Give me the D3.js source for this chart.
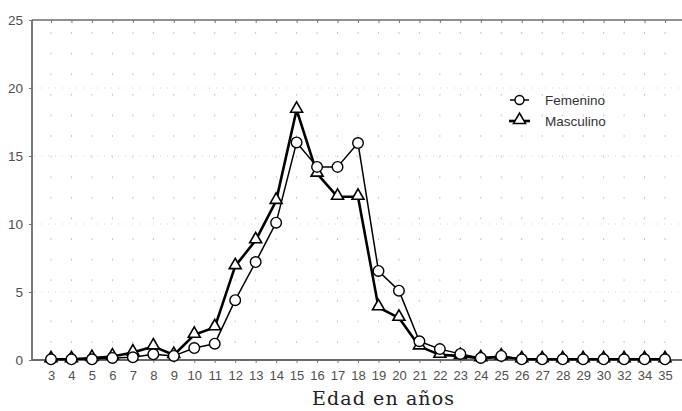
<!DOCTYPE html>
<html>
<head>
<meta charset="utf-8">
<script src="https://cdn.jsdelivr.net/npm/d3@7"></script>
<style>
  html, body { margin: 0; padding: 0; background: #fff; }
  svg { display: block; }
</style>
</head>
<body>
<svg id="chart" width="682" height="411"></svg>
<script>
// ---- data ----
const categories = ["3","4","5","6","7","8","9","10","11","12","13","14","15","16","17","18","19","20","21","22","23","24","25","26","27","28","29","30","32","34","35"];
const femenino  = [0.05,0.05,0.05,0.15,0.2,0.42,0.3,0.88,1.2,4.4,7.2,10.1,16.0,14.2,14.2,15.95,6.55,5.1,1.38,0.8,0.45,0.15,0.3,0.05,0.05,0.05,0.05,0.05,0.05,0.05,0.05];
const masculino = [0.05,0.05,0.15,0.25,0.55,1.0,0.37,1.85,2.4,6.9,8.8,11.7,18.4,13.7,12.0,12.0,3.87,3.1,1.0,0.38,0.3,0.12,0.25,0.05,0.05,0.05,0.05,0.05,0.05,0.05,0.05];
const yTicks = [0,5,10,15,20,25];
const seriesNames = ["Femenino","Masculino"];
const xTitle = "Edad en años";

// ---- layout ----
const svg = d3.select("#chart");
const pLeft = 32, pRight = 682, pTop = 20, pBottom = 360;

const x = d3.scalePoint().domain(categories).range([51, 665]);
const y = d3.scaleLinear().domain([0, 25]).range([pBottom, pTop]);

// dotted grid (dots at intersections)
const gridRows = d3.range(pBottom - 18, pTop, -20.6);
const gridG = svg.append("g").attr("fill", "#c8c8c8");
categories.forEach(c => {
  gridRows.forEach(r => {
    gridG.append("rect").attr("x", x(c) - 0.5).attr("y", r - 1).attr("width", 1).attr("height", 2);
  });
});
// major horizontal dotted rows
const majorG = svg.append("g");
yTicks.filter(t => t > 0 && t < 25).forEach(t => {
  majorG.append("line")
    .attr("x1", pLeft + 2).attr("x2", pRight)
    .attr("y1", y(t)).attr("y2", y(t))
    .attr("stroke", "#d4d4d4").attr("stroke-width", 1)
    .attr("stroke-dasharray", "1,6");
});

const tickFont = "'Liberation Sans', Arial, sans-serif";

// axes
const xAxis = d3.axisBottom(x).tickSize(3).tickPadding(8);
const gx = svg.append("g").attr("transform", `translate(0,${pBottom})`).call(xAxis);
gx.select(".domain").remove();
gx.selectAll(".tick line").attr("stroke", "#777");
gx.selectAll(".tick text").attr("fill", "#505050").style("font-family", tickFont).style("font-size", "13px");

const yAxis = d3.axisLeft(y).tickValues(yTicks).tickSize(3).tickPadding(6);
const gy = svg.append("g").attr("transform", `translate(${pLeft},0)`).call(yAxis);
gy.select(".domain").remove();
gy.selectAll(".tick line").attr("stroke", "#777");
gy.selectAll(".tick text").attr("fill", "#505050").style("font-family", tickFont).style("font-size", "13.5px");

// top ticks
const xTop = d3.axisTop(x).tickSize(-3).tickFormat("");
const gt = svg.append("g").attr("transform", `translate(0,${pTop})`).call(xTop);
gt.select(".domain").remove();
gt.selectAll(".tick line").attr("stroke", "#777");

// frame lines
svg.append("line").attr("x1", pLeft).attr("x2", pRight).attr("y1", pTop).attr("y2", pTop).attr("stroke", "#6a6a6a").attr("stroke-width", 1.6);
svg.append("line").attr("x1", pLeft).attr("x2", pRight).attr("y1", pBottom).attr("y2", pBottom).attr("stroke", "#6a6a6a").attr("stroke-width", 1.8);
svg.append("line").attr("x1", pLeft).attr("x2", pLeft).attr("y1", pTop).attr("y2", pBottom).attr("stroke", "#6a6a6a").attr("stroke-width", 1.8);

// series
const line = d3.line().x((d, i) => x(categories[i])).y(d => y(d));

svg.append("path").datum(masculino).attr("d", line)
  .attr("fill", "none").attr("stroke", "#000").attr("stroke-width", 2.6).attr("stroke-linejoin", "round");
svg.append("path").datum(femenino).attr("d", line)
  .attr("fill", "none").attr("stroke", "#000").attr("stroke-width", 1.5).attr("stroke-linejoin", "round");

const tri = d3.symbol().type(d3.symbolTriangle).size(62);

svg.append("g").selectAll("path").data(masculino).join("path")
  .attr("d", tri)
  .attr("transform", (d, i) => `translate(${x(categories[i])},${y(d) - 1})`)
  .attr("fill", "#fff").attr("stroke", "#000").attr("stroke-width", 1.6);

svg.append("g").selectAll("circle").data(femenino).join("circle")
  .attr("cx", (d, i) => x(categories[i])).attr("cy", d => y(d)).attr("r", 5.3)
  .attr("fill", "#fff").attr("stroke", "#000").attr("stroke-width", 1.4);

// legend
const lg = svg.append("g");
lg.append("line").attr("x1", 510).attr("x2", 529).attr("y1", 100).attr("y2", 100).attr("stroke", "#000").attr("stroke-width", 1.5);
lg.append("circle").attr("cx", 519.5).attr("cy", 100).attr("r", 4.5).attr("fill", "#fff").attr("stroke", "#000").attr("stroke-width", 1.4);
lg.append("line").attr("x1", 509).attr("x2", 530).attr("y1", 121).attr("y2", 121).attr("stroke", "#000").attr("stroke-width", 2.6);
lg.append("path").attr("d", tri).attr("transform", "translate(519.5,120)").attr("fill", "#fff").attr("stroke", "#000").attr("stroke-width", 1.6);
lg.selectAll("text.leg").data(seriesNames).join("text")
  .attr("x", 545).attr("y", (d, i) => 105 + i * 21)
  .attr("fill", "#333")
  .style("font-family", tickFont).style("font-size", "13.5px")
  .text(d => d);

// x title
svg.append("text").attr("x", 383).attr("y", 405).attr("text-anchor", "middle")
  .attr("fill", "#222")
  .attr("textLength", 142).attr("lengthAdjust", "spacing")
  .style("font-family", "'DejaVu Serif', serif").style("font-size", "19px")
  .text(xTitle);
</script>
</body>
</html>
